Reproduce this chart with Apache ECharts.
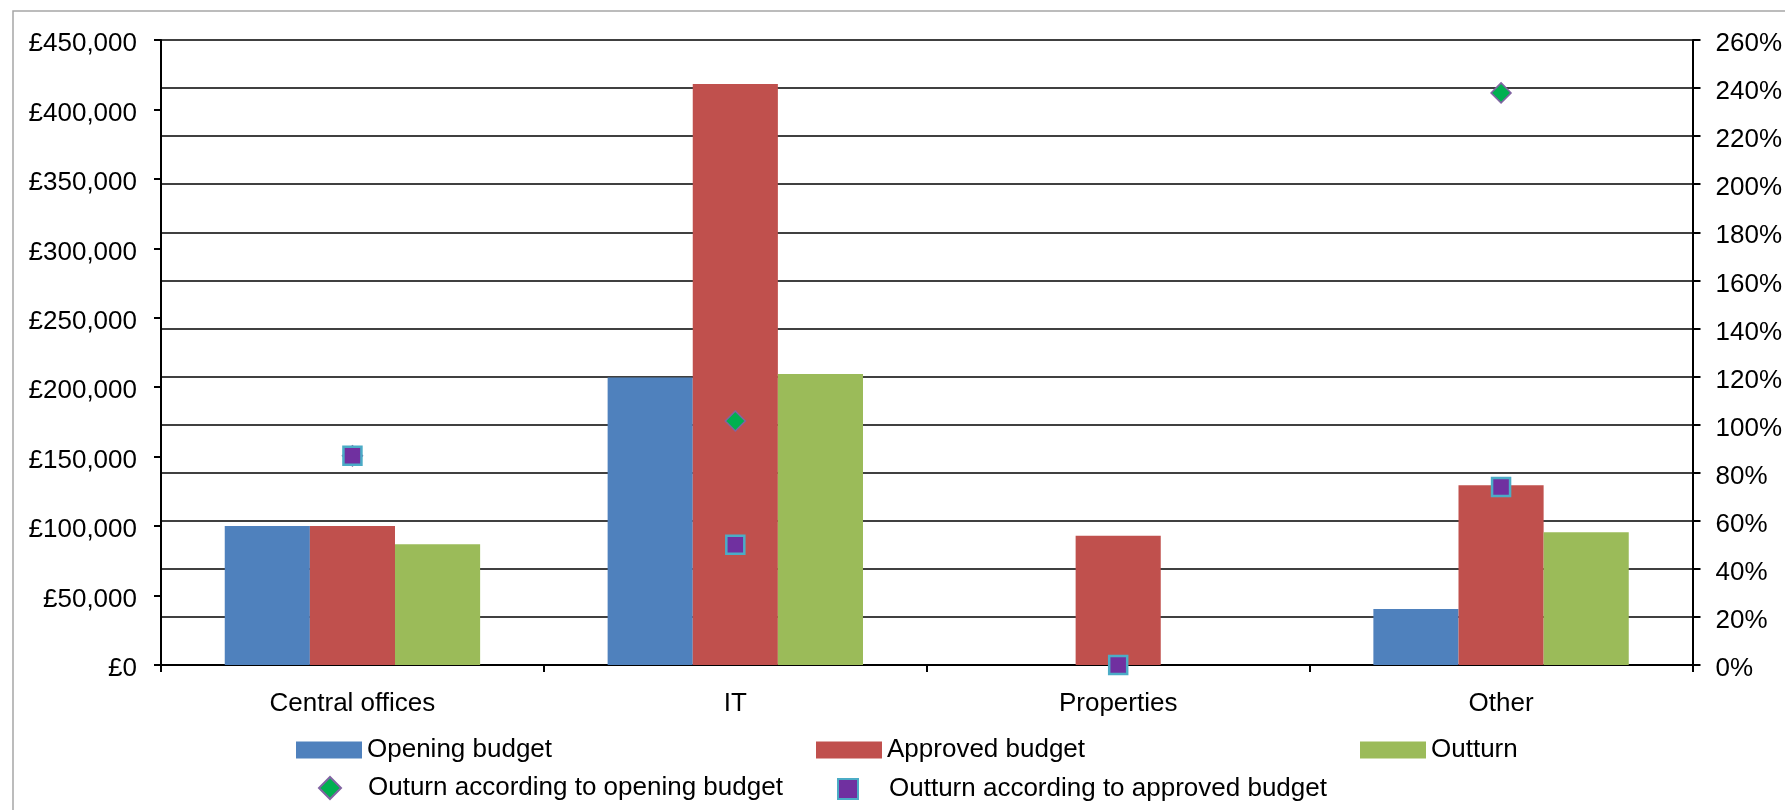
<!DOCTYPE html>
<html>
<head>
<meta charset="utf-8">
<title>Budget and outturn by area</title>
<script src="https://cdn.jsdelivr.net/npm/echarts@6/dist/echarts.min.js"></script>
<style>
  html, body { margin: 0; padding: 0; background: #ffffff; }
  #chart { width: 1785px; height: 810px; }
</style>
</head>
<body>
<div id="chart"></div>
<script>
// Spending areas along the x axis
const categories = ['Central offices', 'IT', 'Properties', 'Other'];

// Budgets and outturn in pounds
const openingBudget = [100000, 207000, 0, 40300];
const approvedBudget = [100000, 418300, 93000, 129500];
const outturn = [87000, 209500, 0, 95500];

// Outturn as a percentage of each budget (right axis)
const outturnVsOpening = [87, 101.5, null, 238];
const outturnVsApproved = [87, 50, 0, 74];

// Axis tick values
const poundTicks = { min: 0, max: 450000, step: 50000 };
const percentTicks = { min: 0, max: 260, step: 20 };

const FONT = "'Liberation Sans', Arial, sans-serif";
const TEXT = { fontFamily: FONT, fontSize: 26, color: '#000000' };
// value labels sit a little below their tick
const LOW_LABEL = { t: Object.assign({ padding: [8, 0, 0, 0] }, TEXT) };

const chart = echarts.init(document.getElementById('chart'), null, { renderer: 'canvas' });

// One legend entry placed on its own; textGap pushes the text right of the icon
function legendBlock(name, left, top, w, h, icon, textGap) {
  const block = {
    data: [name],
    left: left,
    top: top,
    padding: 0,
    itemWidth: w,
    itemHeight: h,
    selectedMode: false,
    textStyle: Object.assign({ padding: [0, 0, 0, textGap] }, TEXT)
  };
  if (icon) block.icon = icon;
  return block;
}

const option = {
  backgroundColor: '#ffffff',
  animation: false,
  graphic: [{
    type: 'rect',
    shape: { x: 13, y: 11, width: 1850, height: 900 },
    style: { fill: 'none', stroke: '#a6a6a6', lineWidth: 1.5 },
    silent: true,
    z: -10
  }],
  grid: { left: 161, right: 86, top: 40, bottom: 145, containLabel: false },
  legend: [
    legendBlock('Opening budget', 296, 737, 66, 17, 'rect', 0),
    legendBlock('Approved budget', 816, 737, 66, 17, 'rect', 0),
    legendBlock('Outturn', 1360, 737, 66, 17, 'rect', 0),
    legendBlock('Outurn according to opening budget', 318, 775, 22, 22, null, 22),
    legendBlock('Outturn according to approved budget', 837, 776, 20, 20, null, 26)
  ],
  xAxis: {
    type: 'category',
    data: categories,
    axisLine: { show: true, lineStyle: { color: '#000000', width: 2 } },
    axisTick: { show: true, length: 7, lineStyle: { color: '#000000', width: 2 } },
    axisLabel: Object.assign({ margin: 26 }, TEXT),
    splitLine: { show: false }
  },
  yAxis: [
    {
      type: 'value',
      position: 'left',
      min: poundTicks.min,
      max: poundTicks.max,
      interval: poundTicks.step,
      axisLine: { show: true, lineStyle: { color: '#000000', width: 2 } },
      axisTick: { show: true, length: 7, lineStyle: { color: '#000000', width: 2 } },
      axisLabel: Object.assign({
        margin: 24,
        rich: LOW_LABEL,
        formatter: v => '{t|£' + v.toLocaleString('en-GB') + '}'
      }, TEXT),
      splitLine: { show: false }
    },
    {
      type: 'value',
      position: 'right',
      min: percentTicks.min,
      max: percentTicks.max,
      interval: percentTicks.step,
      axisLine: { show: true, lineStyle: { color: '#000000', width: 2 } },
      axisTick: { show: true, length: 8, lineStyle: { color: '#000000', width: 2 } },
      axisLabel: Object.assign({
        margin: 23,
        rich: LOW_LABEL,
        formatter: v => '{t|' + v + '%}'
      }, TEXT),
      splitLine: { show: true, lineStyle: { color: '#000000', width: 1.6 } }
    }
  ],
  series: [
    {
      name: 'Opening budget',
      type: 'bar',
      yAxisIndex: 0,
      data: openingBudget,
      barGap: '0%',
      barCategoryGap: '33.3%',
      itemStyle: { color: '#4f81bd' },
      z: 1
    },
    {
      name: 'Approved budget',
      type: 'bar',
      yAxisIndex: 0,
      data: approvedBudget,
      itemStyle: { color: '#c0504d' },
      z: 1
    },
    {
      name: 'Outturn',
      type: 'bar',
      yAxisIndex: 0,
      data: outturn,
      itemStyle: { color: '#9bbb59' },
      z: 1
    },
    {
      name: 'Outurn according to opening budget',
      type: 'scatter',
      yAxisIndex: 1,
      data: outturnVsOpening,
      symbol: 'diamond',
      symbolSize: 20,
      itemStyle: { color: '#00b050', borderColor: '#8064a2', borderWidth: 1.5, opacity: 1 },
      z: 5
    },
    {
      name: 'Outturn according to approved budget',
      type: 'scatter',
      yAxisIndex: 1,
      data: outturnVsApproved,
      symbol: 'rect',
      symbolSize: 18,
      itemStyle: { color: '#7030a0', borderColor: '#4bacc6', borderWidth: 2.5, opacity: 1 },
      z: 6
    }
  ]
};

chart.setOption(option);
</script>
</body>
</html>
